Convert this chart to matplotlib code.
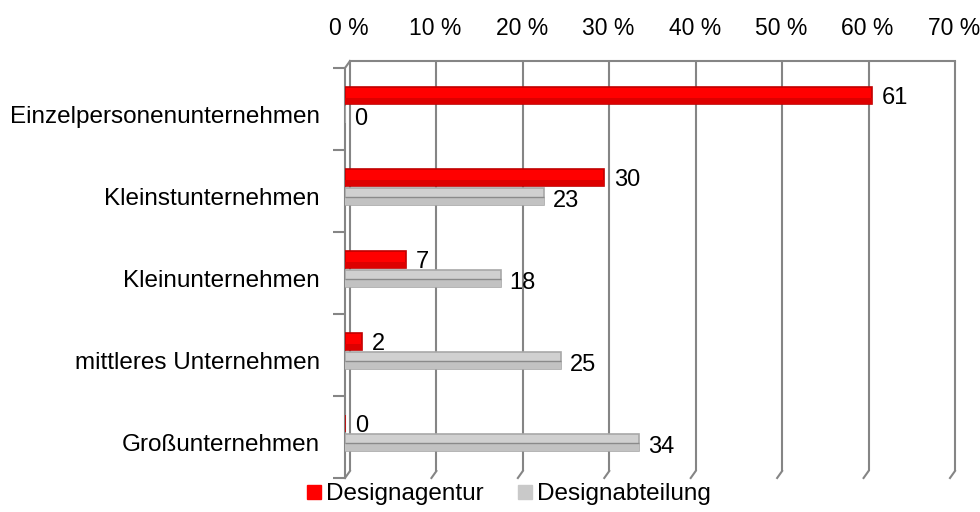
import matplotlib.pyplot as plt
import matplotlib.transforms as mtransforms
import numpy as np

plt.rcParams['font.family'] = ['Liberation Sans', 'DejaVu Sans']

categories = ['Einzelpersonenunternehmen', 'Kleinstunternehmen', 'Kleinunternehmen',
              'mittleres Unternehmen', 'Großunternehmen']
agentur = [61, 30, 7, 2, 0]
abteilung = [0, 23, 18, 25, 34]
x_ticks = [0, 10, 20, 30, 40, 50, 60, 70]
x_labels = ['%d %%' % t for t in x_ticks]

W, H = 980, 512
fig = plt.figure(figsize=(W / 100, H / 100), dpi=100)
# axes box = front plane of the 3D chart (pixels: x 345..950, y 68..478)
ax = fig.add_axes([345 / W, 1 - 478 / H, 605 / W, 410 / H])
ax.set_xlim(0, 70)
ax.set_ylim(5, 0)

pos = np.arange(len(categories))
h = 0.21
red_y = pos + 0.34
grey_y = pos + 0.57

# back wall offset (3D depth)
dxp, dyp = 5, 7
dx = dxp * 70 / 605
dy = dyp / 410
blend = mtransforms.blended_transform_factory(ax.transData, ax.transAxes)
grid_col = '#858585'
ax.vlines(x_ticks, 0, 1, transform=blend + mtransforms.ScaledTranslation(dxp / 100, dyp / 100, fig.dpi_scale_trans),
          color=grid_col, lw=1.5, clip_on=False, zorder=0)
for t in x_ticks:
    ax.plot([t, t + dx], [0, dy], transform=blend, color=grid_col, lw=1.5, clip_on=False, zorder=0)
ax.plot([dx, 70 + dx], [1 + dy, 1 + dy], transform=blend, color=grid_col, lw=1.5, clip_on=False, zorder=0)
ax.plot([0, dx], [1, 1 + dy], transform=blend, color=grid_col, lw=1.5, clip_on=False, zorder=0)

# bars
ax.barh(grey_y, abteilung, height=h, color='#d0d0d0', edgecolor='#a8a8a8', lw=1.2, zorder=3)
ax.barh(grey_y + h * 0.3, abteilung, height=h * 0.4, color='#c2c2c2', lw=0, zorder=3)
ax.hlines(grey_y, 0, abteilung, color='#8a8a8a', lw=1.0, zorder=4)
ax.barh(red_y, agentur, height=h, color='#ff0000', edgecolor='#c00000', lw=1.2, zorder=3)
ax.barh(red_y + h * 0.32, agentur, height=h * 0.36, color='#dd0000', lw=0, zorder=3)

for y, v in zip(red_y, agentur):
    ax.annotate(str(v), (v, y), xytext=(10, -2), textcoords='offset pixels',
                ha='left', va='center', fontsize=17)
for y, v in zip(grey_y, abteilung):
    ax.annotate(str(v), (v, y), xytext=(9, -4), textcoords='offset pixels',
                ha='left', va='center', fontsize=17)

# axes styling
for s in ['top', 'right', 'bottom']:
    ax.spines[s].set_visible(False)
ax.spines['left'].set_color(grid_col)
ax.spines['left'].set_linewidth(1.5)

ax.xaxis.tick_top()
ax.set_xticks(x_ticks)
ax.set_xticklabels(x_labels, fontsize=16.5)
ax.tick_params(axis='x', length=0, pad=20)
for lab in ax.get_xticklabels():
    lab.set_transform(lab.get_transform() + mtransforms.ScaledTranslation(4 / 100, 0, fig.dpi_scale_trans))

ax.set_yticks(np.arange(len(categories) + 1))
ax.set_yticklabels([])
ax.tick_params(axis='y', which='major', length=9, color=grid_col, width=1.5)
ax.set_yticks(pos + 0.57, minor=True)
ax.set_yticklabels(categories, minor=True, fontsize=17.5)
ax.tick_params(axis='y', which='minor', length=0, pad=18)

h1 = plt.Line2D([], [], ls='none', marker='s', markersize=10, color='#ff0000')
h2 = plt.Line2D([], [], ls='none', marker='s', markersize=10, color='#c9c9c9')
fig.legend([h1, h2], ['Designagentur', 'Designabteilung'], loc='lower center',
           bbox_to_anchor=(509 / W, -0.006), ncol=2, frameon=False, fontsize=17.5,
           handlelength=0.6, handletextpad=0.2, columnspacing=1.4, borderaxespad=0)

fig.savefig('out.png', dpi=100)
